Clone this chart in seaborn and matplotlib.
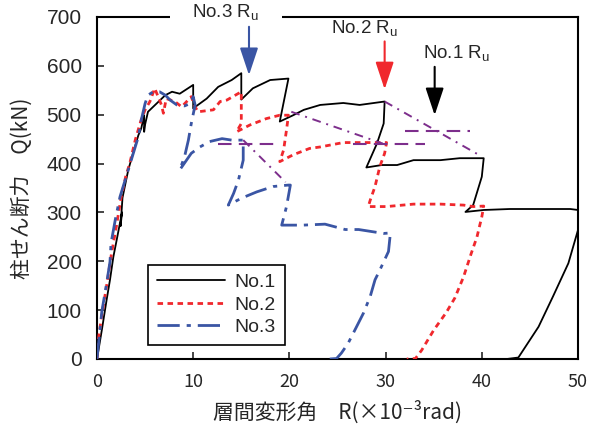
import matplotlib
matplotlib.use("Agg")
import matplotlib.pyplot as plt
import seaborn as sns
import pandas as pd

# Story drift angle R (x10^-3 rad) and column shear Q (kN) for each specimen
r1 = [0, 0.5, 1.0, 1.35, 1.7, 2.05, 2.6, 2.45, 2.65, 3.25, 3.8, 4.3, 4.6, 4.9, 4.9,
      5.0, 5.3, 6.2, 7.1, 7.8, 8.6, 9.3, 10.0, 10.0, 11.4, 12.6, 14.0, 15.0, 15.0, 16.2,
      18.0, 19.9, 19.0, 20.4, 21.5, 23.2, 25.6, 27.3, 29.9, 29.8, 29.1, 28.0, 29.6, 31.2,
      32.9, 35.7, 37.7, 40.2, 40.0, 39.1, 38.3, 40.2, 42.9, 46.0, 49.2, 50.0, 50.0, 49.0,
      47.4, 45.9, 43.8, 42.6]
q1 = [0, 59, 121, 162, 209, 244, 300, 272, 330, 387, 425, 458, 472, 499, 465,
      480, 506, 523, 540, 547, 543, 552, 561, 513, 533, 557, 571, 585, 531, 554,
      571, 574, 486, 499, 510, 520, 524, 520, 527, 482, 441, 392, 397, 397,
      407, 407, 411, 411, 373, 315, 301, 305, 307, 307, 307, 305, 264, 196,
      128, 66, 3, 0]

r2 = [0, 0.1, 0.5, 1.0, 1.5, 2.0, 2.5, 3.0, 3.4, 4.0, 4.6, 5.0, 5.5, 6.0, 6.7,
      6.9, 7.2, 8.1, 8.8, 9.8, 10.2, 10.5, 12.1, 12.8, 13.5, 15.0, 15.0, 14.5, 15.9, 17.6,
      19.0, 19.9, 19.7, 19.4, 19.0, 20.4, 22.1, 23.2, 25.6, 28.0, 30.1, 29.9, 29.4, 28.9,
      28.4, 28.2, 30.1, 32.9, 35.7, 38.1, 39.1, 40.2, 40.0, 39.5, 38.9, 38.1, 37.2, 36.3,
      35.0, 33.75, 33.1, 32.2]
q2 = [0, 35, 90, 150, 215, 270, 330, 375, 400, 450, 490, 510, 527, 554, 520,
      503, 533, 527, 516, 537, 516, 506, 510, 527, 530, 547, 482, 465, 479, 492,
      499, 499, 469, 428, 404, 418, 431, 434, 443, 443, 443, 421, 394, 353,
      325, 312, 312, 317, 317, 315, 312, 313, 291, 250, 216, 168, 125, 95,
      59, 18, 1, 0]

r3 = [0, 0.5, 1.0, 1.35, 1.46, 1.9, 2.39, 3.25, 4.3, 4.6, 5.0, 5.3, 5.85, 6.5, 7.1,
      7.6, 8.3, 9.1, 9.7, 10.0, 10.2, 9.8, 9.5, 9.1, 8.6, 9.8, 10.7, 11.7, 13.0, 14.0,
      15.2, 15.2, 14.7, 14.2, 13.65, 15.0, 16.6, 18.3, 19.9, 20.1, 19.7, 19.2, 21.4, 23.7,
      25.8, 27.2, 29.8, 30.5, 30.3, 29.4, 28.9, 28.4, 27.7, 26.8, 26.1, 25.4, 24.9, 24.2]
q3 = [0, 97, 155, 199, 237, 285, 332, 387, 455, 489, 523, 540, 547, 547, 540,
      530, 520, 518, 523, 537, 520, 482, 448, 414, 387, 421, 434, 445, 451, 448,
      448, 407, 366, 339, 315, 329, 342, 353, 356, 356, 312, 274, 274, 276,
      265, 265, 257, 258, 220, 182, 162, 128, 94, 59, 32, 12, 1, 0]

# Post-peak envelope lines and 80 % max-load levels used to find Ru
env1_r, env1_q = [29.9, 39.5], [527, 420]
cut1_r, cut1_q = [32.0, 38.8], [467, 467]
env2_r, env2_q = [20.2, 29.7], [506, 441]
cut2_r, cut2_q = [26.6, 34.1], [441, 441]
env3_r, env3_q = [15.2, 19.6], [448, 362]
cut3_r, cut3_q = [12.6, 18.5], [440, 440]

# Ultimate drift markers: label, Ru, arrow tip Q, arrow tail Q, label position
ru_labels = ["No.1", "No.2", "No.3"]
ru_values = [35.1, 29.9, 15.8]
ru_tip_q = [499, 552, 581]
ru_tail_q = [598, 650, 680]
ru_text_r = [37.4, 27.8, 13.4]
ru_text_q = [626, 677, 711]

series_names = ["No.1", "No.2", "No.3"]
colors = ["#000000", "#F0282D", "#3A55A4"]
purple = "#7D2E8C"

sns.set_style("white")
plt.rcParams["font.family"] = ["Liberation Sans", "Noto Sans CJK JP", "DejaVu Sans"]
plt.rcParams["mathtext.default"] = "regular"

fig = plt.figure(figsize=(5.89, 4.37), dpi=100)
ax = fig.add_axes([97 / 589, 1 - 359 / 437, 481 / 589, 342 / 437])

styles = [
    dict(lw=1.3, linestyle="-"),
    dict(lw=2.0, linestyle=(0, (2.0, 1.6))),
    dict(lw=2.0, linestyle=(0, (8, 2.5, 1.5, 2.5))),
]
for (r, q), name, c, st in zip([(r1, q1), (r2, q2), (r3, q3)], series_names, colors, styles):
    df = pd.DataFrame({"R": r, "Q": q})
    sns.lineplot(data=df, x="R", y="Q", sort=False, estimator=None, color=c,
                 label=name, ax=ax, zorder=3, **st)

for r, q in [(env1_r, env1_q), (env2_r, env2_q), (env3_r, env3_q)]:
    sns.lineplot(x=r, y=q, sort=False, estimator=None, color=purple, lw=1.4,
                 linestyle=(0, (4.5, 3, 1, 3)), ax=ax, zorder=4, legend=False)
for r, q in [(cut1_r, cut1_q), (cut2_r, cut2_q), (cut3_r, cut3_q)]:
    sns.lineplot(x=r, y=q, sort=False, estimator=None, color=purple, lw=1.5,
                 linestyle=(0, (6.5, 3.5)), ax=ax, zorder=4, legend=False)

ax.set_xlim(0, 50)
ax.set_ylim(0, 700)
ax.set_xticks(range(0, 51, 10))
ax.set_yticks(range(0, 701, 100))
ax.tick_params(direction="in", length=5, width=1.2, left=True, bottom=True,
               top=False, right=False)
ax.tick_params(axis="y", labelsize=15, pad=11)
ax.tick_params(axis="x", labelsize=13, pad=10)
for lab in ax.get_xticklabels():
    lab.set_fontfamily(["Noto Sans CJK JP", "DejaVu Sans"])
for sp in ax.spines.values():
    sp.set_linewidth(1.5)
    sp.set_color("black")

ax.set_xlabel("層間変形角　R(×10⁻³rad)", family=["Noto Sans CJK JP", "DejaVu Sans"],
              fontsize=15, labelpad=7)
ax.set_ylabel("柱せん断力　Q(kN)", family=["Noto Sans CJK JP", "DejaVu Sans"],
              fontsize=15, labelpad=10)

# Ru annotations with arrows
for lab, ru, tip, tail, tx, ty, c in zip(ru_labels, ru_values, ru_tip_q, ru_tail_q,
                                        ru_text_r, ru_text_q, colors):
    ax.annotate("", xy=(ru, tip), xytext=(ru, tail), zorder=6, annotation_clip=False,
                arrowprops=dict(arrowstyle="-|>,head_length=1.2,head_width=0.4",
                                color=c, lw=1.5, mutation_scale=14, shrinkA=0, shrinkB=0))
    bbox = None
    if lab == "No.3":
        bbox = dict(boxstyle="square,pad=1.2", facecolor="white", edgecolor="none")
    ax.text(tx, ty, lab + " $R_u$", ha="center", va="center", fontsize=13.5,
            family="Liberation Sans", clip_on=False, zorder=5, bbox=bbox)

leg = ax.legend(loc="lower left", bbox_to_anchor=(0.106, 0.041), fontsize=14,
                handlelength=3.5, handletextpad=0.5, labelspacing=0.25,
                borderpad=0.45, fancybox=False, framealpha=1, edgecolor="black",
                borderaxespad=0)
leg.get_frame().set_linewidth(1.2)

fig.savefig("out.png", dpi=100)
